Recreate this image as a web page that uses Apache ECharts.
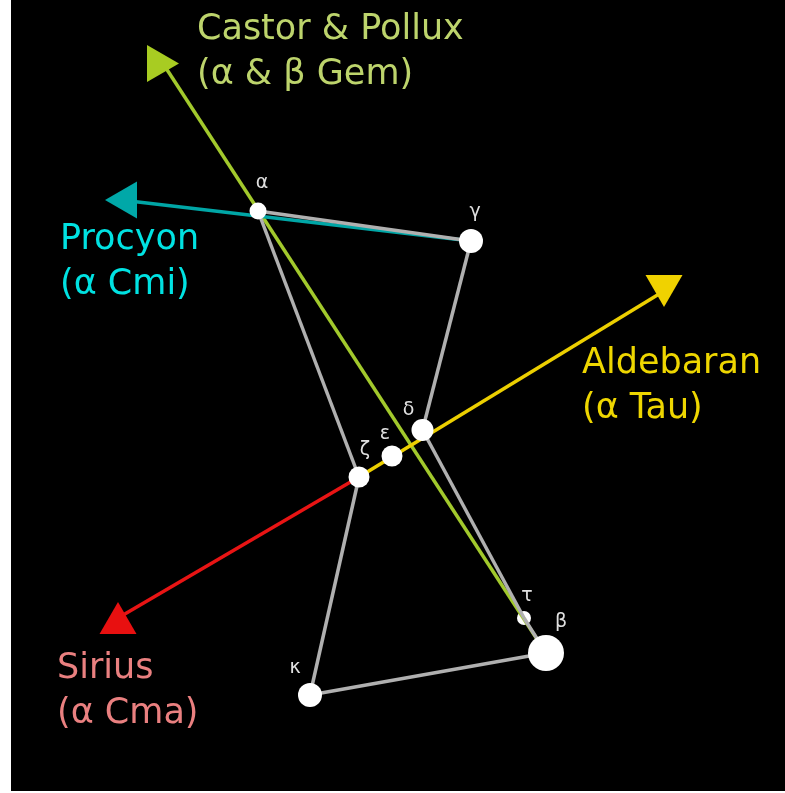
<!DOCTYPE html>
<html>
<head>
<meta charset="utf-8">
<script src="https://cdn.jsdelivr.net/npm/echarts@6/dist/echarts.min.js"></script>
<style>
  html, body { margin: 0; padding: 0; background: #ffffff; }
  #chart { position: absolute; left: 11px; top: 0; width: 774px; height: 791px; }
</style>
</head>
<body>
<div id="chart"></div>
<script>
// ---- data (chart units: x to the right, y upward) ----
const starNames = ['α', 'γ', 'δ', 'ε', 'ζ', 'κ', 'β', 'τ'];
const starX     = [247, 460, 411.5, 381, 348, 299, 535, 513];
const starY     = [580, 550, 361, 335, 314, 96, 138, 173];

const figureFrom = ['α', 'γ', 'δ', 'τ', 'α', 'ζ', 'κ'];
const figureTo   = ['γ', 'δ', 'τ', 'β', 'ζ', 'κ', 'β'];

const pointerLabels = ['Castor & Pollux\n(α & β Gem)', 'Procyon\n(α Cmi)', 'Aldebaran\n(α Tau)', 'Sirius\n(α Cma)'];
const pointerFrom   = ['β', 'γ', 'ζ', 'ζ'];
const pointerToX    = [152, 110, 653, 107];
const pointerToY    = [727.5, 591, 500, 173];

// ---- styles ----
const starSize = { 'α': 17, 'γ': 24, 'δ': 22, 'ε': 21, 'ζ': 21, 'κ': 24, 'β': 36, 'τ': 14 };
const starLabelOffset = {
  'α': [4, -28], 'γ': [4, -29], 'δ': [-14, -20], 'ε': [-7, -22],
  'ζ': [6, -27], 'κ': [-15, -27], 'β': [15, -31], 'τ': [3, -22]
};
const pointerLineColor = ['#a2c92c', '#00a6a6', '#eccf00', '#e81414'];
const pointerHeadColor = ['#a8cc22', '#00a8a8', '#f0d200', '#e81010'];
const pointerTextColor = ['#bdd46c', '#00e2e2', '#eed600', '#ea8080'];
const pointerRotate    = [-90, 90, 180, 0];
const pointerTextOffset = [[34, -11], [-61, 62], [-82, 95], [-61, 73]];
const faintStars = ['τ'];

const idx = n => starNames.indexOf(n);
const pt = n => [starX[idx(n)], starY[idx(n)]];

const starItem = n => ({
  name: n,
  value: pt(n),
  symbolSize: starSize[n],
  label: { offset: starLabelOffset[n] }
});

const labelStyle = {
  show: true, formatter: '{b}', position: 'inside', align: 'center', verticalAlign: 'middle',
  color: '#e0e0e0', fontSize: 19, fontFamily: 'DejaVu Sans', opacity: 1
};

const chart = echarts.init(document.getElementById('chart'), null, { renderer: 'canvas' });
chart.setOption({
  animation: false,
  backgroundColor: '#000000',
  grid: { left: 0, right: 0, top: 0, bottom: 0 },
  xAxis: { type: 'value', min: 0, max: 774, show: false },
  yAxis: { type: 'value', min: 0, max: 791, show: false },
  series: [
    {
      type: 'scatter', z: 1, symbol: 'circle',
      itemStyle: { color: '#ffffff', opacity: 1 },
      label: labelStyle,
      data: starNames.filter(n => faintStars.includes(n)).map(starItem)
    },
    {
      type: 'lines', coordinateSystem: 'cartesian2d', z: 2,
      lineStyle: { width: 3.5, opacity: 1 },
      data: pointerFrom.map((f, i) => ({
        coords: [pt(f), [pointerToX[i], pointerToY[i]]],
        lineStyle: { color: pointerLineColor[i], width: 3.5, opacity: 1 }
      }))
    },
    {
      type: 'lines', coordinateSystem: 'cartesian2d', z: 3,
      lineStyle: { width: 3.5, color: '#b0b0b0', opacity: 1 },
      data: figureFrom.map((f, i) => ({ coords: [pt(f), pt(figureTo[i])] }))
    },
    {
      type: 'scatter', z: 4, symbol: 'triangle',
      itemStyle: { opacity: 1 },
      data: pointerFrom.map((f, i) => ({
        value: [pointerToX[i], pointerToY[i]],
        symbolSize: [37, 32],
        symbolRotate: pointerRotate[i],
        itemStyle: { color: pointerHeadColor[i], opacity: 1 }
      }))
    },
    {
      type: 'scatter', z: 5, symbol: 'circle',
      itemStyle: { color: '#ffffff', opacity: 1 },
      label: labelStyle,
      data: starNames.filter(n => !faintStars.includes(n)).map(starItem)
    },
    {
      type: 'scatter', z: 6, symbol: 'circle', symbolSize: 1,
      itemStyle: { color: 'rgba(0,0,0,0)', opacity: 1 },
      data: pointerLabels.map((t, i) => ({
        name: t,
        value: [pointerToX[i], pointerToY[i]],
        label: {
          show: true, formatter: '{b}', position: 'inside', align: 'left', verticalAlign: 'middle',
          offset: pointerTextOffset[i], color: pointerTextColor[i], opacity: 1,
          fontSize: 35, lineHeight: 45, fontFamily: 'DejaVu Sans'
        }
      }))
    }
  ]
});
</script>
</body>
</html>
